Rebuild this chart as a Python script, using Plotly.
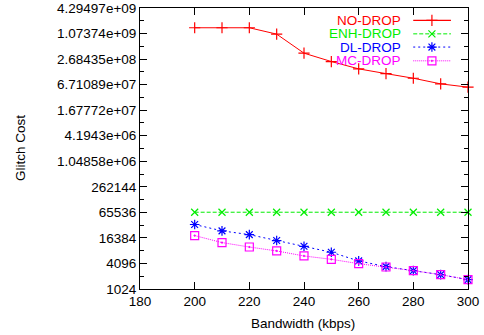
import plotly.graph_objects as go

bandwidth = [200, 210, 220, 230, 240, 250, 260, 270, 280, 290, 300]
no_drop = [1.47e9, 1.47e9, 1.47e9, 1.04e9, 3.7e8, 2.35e8, 1.58e8, 1.22e8, 9.5e7, 7.0e7, 5.85e7]
enh_drop = [66000] * 11
dl_drop = [33900, 24000, 19600, 14200, 10400, 7520, 4700, 3450, 2770, 2230, 1700]
mc_drop = [18600, 12700, 10000, 8080, 6150, 5130, 4050, 3380, 2770, 2230, 1700]

series_names = ["NO-DROP", "ENH-DROP", "DL-DROP", "MC-DROP"]
series_values = [no_drop, enh_drop, dl_drop, mc_drop]
colors = ["#ff0000", "#00ee00", "#0000ff", "#ff00ff"]
dashes = ["solid", "4px,2px", "2px,3px", "1px,1px"]
symbols = ["cross-thin-open", "x-thin-open", "asterisk-open", "square-open-dot"]
sizes = [8, 7, 8, 8]

y_tickvals = [4 ** k for k in range(5, 17)]
y_ticktext = ["%g" % v for v in y_tickvals]
y_minor = [2 * 4 ** k for k in range(5, 16)]
x_tickvals = [180, 200, 220, 240, 260, 280, 300]

FONT = "Liberation Sans, Arial, sans-serif"
FS = 13.5

fig = go.Figure()
for name, vals, c, d, s, sz in zip(series_names, series_values, colors, dashes, symbols, sizes):
    fig.add_trace(go.Scatter(
        x=bandwidth, y=vals, mode="lines+markers", name=name,
        line=dict(color=c, width=1, dash=d),
        marker=dict(symbol=s, size=sz, color=c, line=dict(color=c, width=1.2)),
        cliponaxis=False, showlegend=False))

# custom gnuplot-style legend (text right-aligned, sample on the right)
leg_y = [0.956, 0.908, 0.861, 0.812]
for name, c, d, s, sz, yy in zip(series_names, colors, dashes, symbols, sizes, leg_y):
    fig.add_shape(type="line", xref="paper", yref="paper", x0=0.833, x1=0.948, y0=yy, y1=yy,
                  line=dict(color=c, width=1.3 if d == "solid" else 1, dash=d))
    fig.add_trace(go.Scatter(x=[0.890], y=[yy], xaxis="x2", yaxis="y2", mode="markers",
                             marker=dict(symbol=s, size=sz, color=c, line=dict(color=c, width=1.2)),
                             showlegend=False, hoverinfo="skip", cliponaxis=False))
    fig.add_annotation(text=name, xref="paper", yref="paper", x=0.8025, y=yy,
                       xanchor="right", yanchor="middle", showarrow=False,
                       font=dict(family=FONT, size=FS, color=c))

# axis titles
fig.add_annotation(text="Glitch Cost", xref="paper", yref="paper", x=-0.364, y=0.5,
                   textangle=-90, xanchor="center", yanchor="middle", showarrow=False,
                   font=dict(family=FONT, size=FS, color="black"))
fig.add_annotation(text="Bandwidth (kbps)", xref="paper", yref="paper", x=0.497, y=-0.123,
                   xanchor="center", yanchor="middle", showarrow=False,
                   font=dict(family=FONT, size=FS, color="black"))

fig.update_layout(
    width=484, height=335,
    margin=dict(l=140, r=16, t=8, b=46),
    paper_bgcolor="white", plot_bgcolor="white",
    font=dict(family=FONT, size=FS, color="black"),
    xaxis=dict(range=[180, 300], tickvals=x_tickvals, ticks="inside", ticklen=7,
               tickcolor="black", showline=True, linecolor="black", linewidth=1,
               mirror="allticks", showgrid=False, zeroline=False, automargin=False,
               tickfont=dict(size=FS)),
    yaxis=dict(type="log", range=[3.0103, 9.63296], tickvals=y_tickvals, ticktext=y_ticktext,
               ticks="inside", ticklen=7, tickcolor="black", showline=True, linecolor="black",
               linewidth=1, mirror="allticks", showgrid=False, zeroline=False, automargin=False,
               minor=dict(tickvals=y_minor, ticks="inside", ticklen=4, tickcolor="black", showgrid=False),
               tickfont=dict(size=FS)),
    xaxis2=dict(overlaying="x", range=[0, 1], visible=False),
    yaxis2=dict(overlaying="y", range=[0, 1], visible=False),
)

fig.write_html("out.html", config={"displayModeBar": False},
               post_script="document.body.style.margin='0';")
